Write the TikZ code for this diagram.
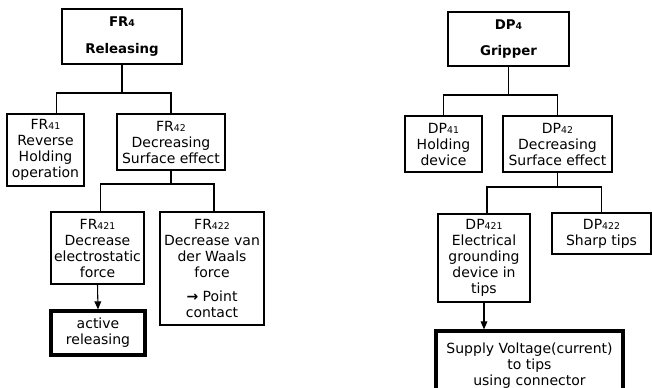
\documentclass[tikz,border=0pt]{standalone}
\usepackage{fontspec}
\setmainfont{DejaVu Sans}
\usepackage{tikz}
\usetikzlibrary{arrows.meta, positioning}
\newcommand{\low}[1]{{\scriptsize #1}}

\begin{document}
\begin{tikzpicture}[
        x=0.75pt, y=-0.75pt,
        font=\fontsize{10.5}{12}\selectfont,
        box/.style={draw, line width=0.8pt, align=center, inner sep=0pt},
        topbox/.style={box, font=\fontsize{10}{12}\selectfont\bfseries},
        endbox/.style={box, line width=2.4pt},
        link/.style={line width=0.8pt},
        arrow/.style={line width=0.8pt, -{Triangle[length=6pt, width=5pt]}}
    ]
        \useasboundingbox (0,0) rectangle (652,388);

        % Functional requirements (left tree)
        \node (fr4) [topbox, minimum width=90pt, minimum height=41.25pt] at (122,36.5) {FR\low{4}\\[8pt]Releasing};
        \node (fr41) [box, minimum width=57.75pt, minimum height=54pt] at (45.5,150) {FR\low{41}\\Reverse\\Holding\\operation};
        \node (fr42) [box, minimum width=81pt, minimum height=42pt] at (171,142) {FR\low{42}\\Decreasing\\Surface effect};
        \node (fr421) [box, minimum width=69.75pt, minimum height=54pt] at (97.5,248) {FR\low{421}\\Decrease\\electrostatic\\force};
        \node (fr422) [box, minimum width=78pt, minimum height=84.75pt] at (212,268.5) {FR\low{422}\\Decrease van\\der Waals\\force\\[6pt]\textbf{→} Point\\contact};
        \node (act) [endbox, minimum width=70.5pt, minimum height=33pt] at (98,333) {active\\releasing};

        % Design parameters (right tree)
        \node (dp4) [topbox, minimum width=90.75pt, minimum height=40.5pt] at (508.5,39) {DP\low{4}\\[8pt]Gripper};
        \node (dp41) [box, minimum width=57.75pt, minimum height=42pt] at (443.5,144) {DP\low{41}\\Holding\\device};
        \node (dp42) [box, minimum width=81.75pt, minimum height=42pt] at (557.5,144) {DP\low{42}\\Decreasing\\Surface effect};
        \node (dp421) [box, minimum width=69pt, minimum height=66pt] at (484,258) {DP\low{421}\\Electrical\\grounding\\device in\\tips};
        \node (dp422) [box, minimum width=74.25pt, minimum height=30.75pt] at (601.5,233.5) {DP\low{422}\\Sharp tips};
        \node (sup) [endbox, minimum width=140.25pt, minimum height=51.75pt] at (529.5,365.5) {Supply Voltage(current)\\to tips\\using connector};

        % Branches
        \draw[link] (fr4.south) -- (fr4.south |- 0,93);
        \draw[link] ([xshift=8.25pt]fr41.north) |- (fr4.south |- 0,93) -| (fr42.north);
        \draw[link] (fr42.south) -- (fr42.south |- 0,184);
        \draw[link] ([xshift=2pt]fr421.north) |- (fr42.south |- 0,184) -| ([xshift=1.5pt]fr422.north);
        \draw[arrow] (fr421.south) -- (act.north);

        \draw[link] (dp4.south) -- (dp4.south |- 0,95);
        \draw[link] (dp41.north) |- (dp4.south |- 0,95) -| (dp42.north);
        \draw[link] (dp42.south) -- (dp42.south |- 0,187);
        \draw[link] ([xshift=2.25pt]dp421.north) |- (dp42.south |- 0,187) -| (dp422.north);
        \draw[arrow] (dp421.south) -- (dp421.south |- sup.north);

    \end{tikzpicture}
\end{document}
